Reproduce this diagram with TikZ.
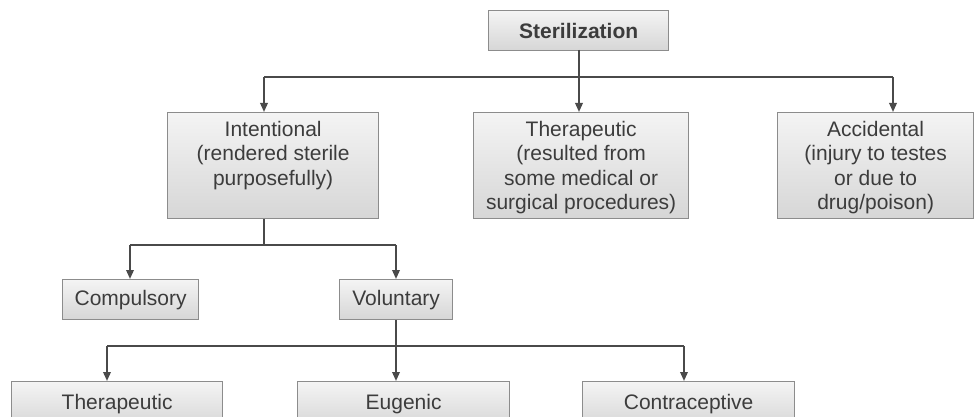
\documentclass[tikz,border=0pt]{standalone}
\usepackage{fontspec}
\setmainfont{Liberation Sans}
\usetikzlibrary{arrows.meta,calc}
\definecolor{txt}{HTML}{3C3C3C}
\definecolor{ln}{HTML}{4A4A4A}
\definecolor{bd}{HTML}{8C8C8C}
\definecolor{topc}{HTML}{F4F4F4}
\definecolor{botc}{HTML}{D6D6D6}
\tikzset{
  box/.style={draw=bd, line width=1.3pt, top color=topc, bottom color=botc, rectangle, inner sep=0pt, anchor=north west},
  lbl/.style={text=txt, align=center, font=\fontsize{21}{24.5}\selectfont, inner sep=0pt},
  conn/.style={draw=ln, line width=1.8pt},
  arr/.style={conn, -{Triangle[width=7.5pt,length=9pt]}}
}
\begin{document}
\begin{tikzpicture}[x=1pt,y=-1pt]
\useasboundingbox (0,0) rectangle (975,417);
\clip (0,0) rectangle (975,417);
% boxes
\node[box, minimum width=180, minimum height=40] (s) at (488,10) {};
\node[lbl, font=\fontsize{21}{24.5}\selectfont\bfseries] (st) at (s.center) {Sterilization};

\node[box, minimum width=211, minimum height=106] (b1) at (167,112) {};
\node[lbl, anchor=north] (b1t) at ([yshift=-9]b1.north) {Intentional\\(rendered sterile\\purposefully)};
\node[box, minimum width=215, minimum height=106] (b2) at (473,112) {};
\node[lbl, anchor=north] (b2t) at ([yshift=-9]b2.north) {Therapeutic\\(resulted from\\some medical or\\surgical procedures)};
\node[box, minimum width=196, minimum height=106] (b3) at (777,112) {};
\node[lbl, anchor=north] (b3t) at ([yshift=-9]b3.north) {Accidental\\(injury to testes\\or due to\\drug/poison)};

\node[box, minimum width=136, minimum height=40] (c1) at (62,279) {};
\node[lbl] (c1t) at (c1.center) {Compulsory};
\node[box, minimum width=113, minimum height=40] (c2) at (339,279) {};
\node[lbl] (c2t) at (c2.center) {Voluntary};

\node[box, minimum width=211, minimum height=46] (d1) at (11,381) {};
\node[lbl] (d1t) at ([yshift=1]d1.center) {Therapeutic};
\node[box, minimum width=212, minimum height=46] (d2) at (297,381) {};
\node[lbl] (d2t) at ([yshift=1]d2.center) {Eugenic};
\node[box, minimum width=212, minimum height=46] (d3) at (582,381) {};
\node[lbl] (d3t) at ([yshift=1]d3.center) {Contraceptive};

% connectors level 1
\coordinate (j0) at (579,50);
\coordinate (j1) at (579,77);
\coordinate (x1) at (264,77);
\coordinate (x3) at (893,77);
\draw[conn] (j0) -- (j1);
\draw[conn] (x1) -- (x3);
\draw[arr] (x1) -- (x1 |- b1.north);
\draw[arr] (j1) -- (j1 |- b2.north);
\draw[arr] (x3) -- (x3 |- b3.north);

% level 2
\coordinate (k0) at (264,245);
\coordinate (k1) at (130,245);
\coordinate (k2) at (396,245);
\draw[conn] (k0 |- b1.south) -- (k0);
\draw[conn] (k1) -- (k2);
\draw[arr] (k1) -- (k1 |- c1.north);
\draw[arr] (k2) -- (k2 |- c2.north);

% level 3
\coordinate (m0) at (396,346);
\coordinate (m1) at (107,346);
\coordinate (m3) at (684,346);
\draw[conn] (m0 |- c2.south) -- (m0);
\draw[conn] (m1) -- (m3);
\draw[arr] (m1) -- (m1 |- d1.north);
\draw[arr] (m0) -- (m0 |- d2.north);
\draw[arr] (m3) -- (m3 |- d3.north);
\end{tikzpicture}
\end{document}
